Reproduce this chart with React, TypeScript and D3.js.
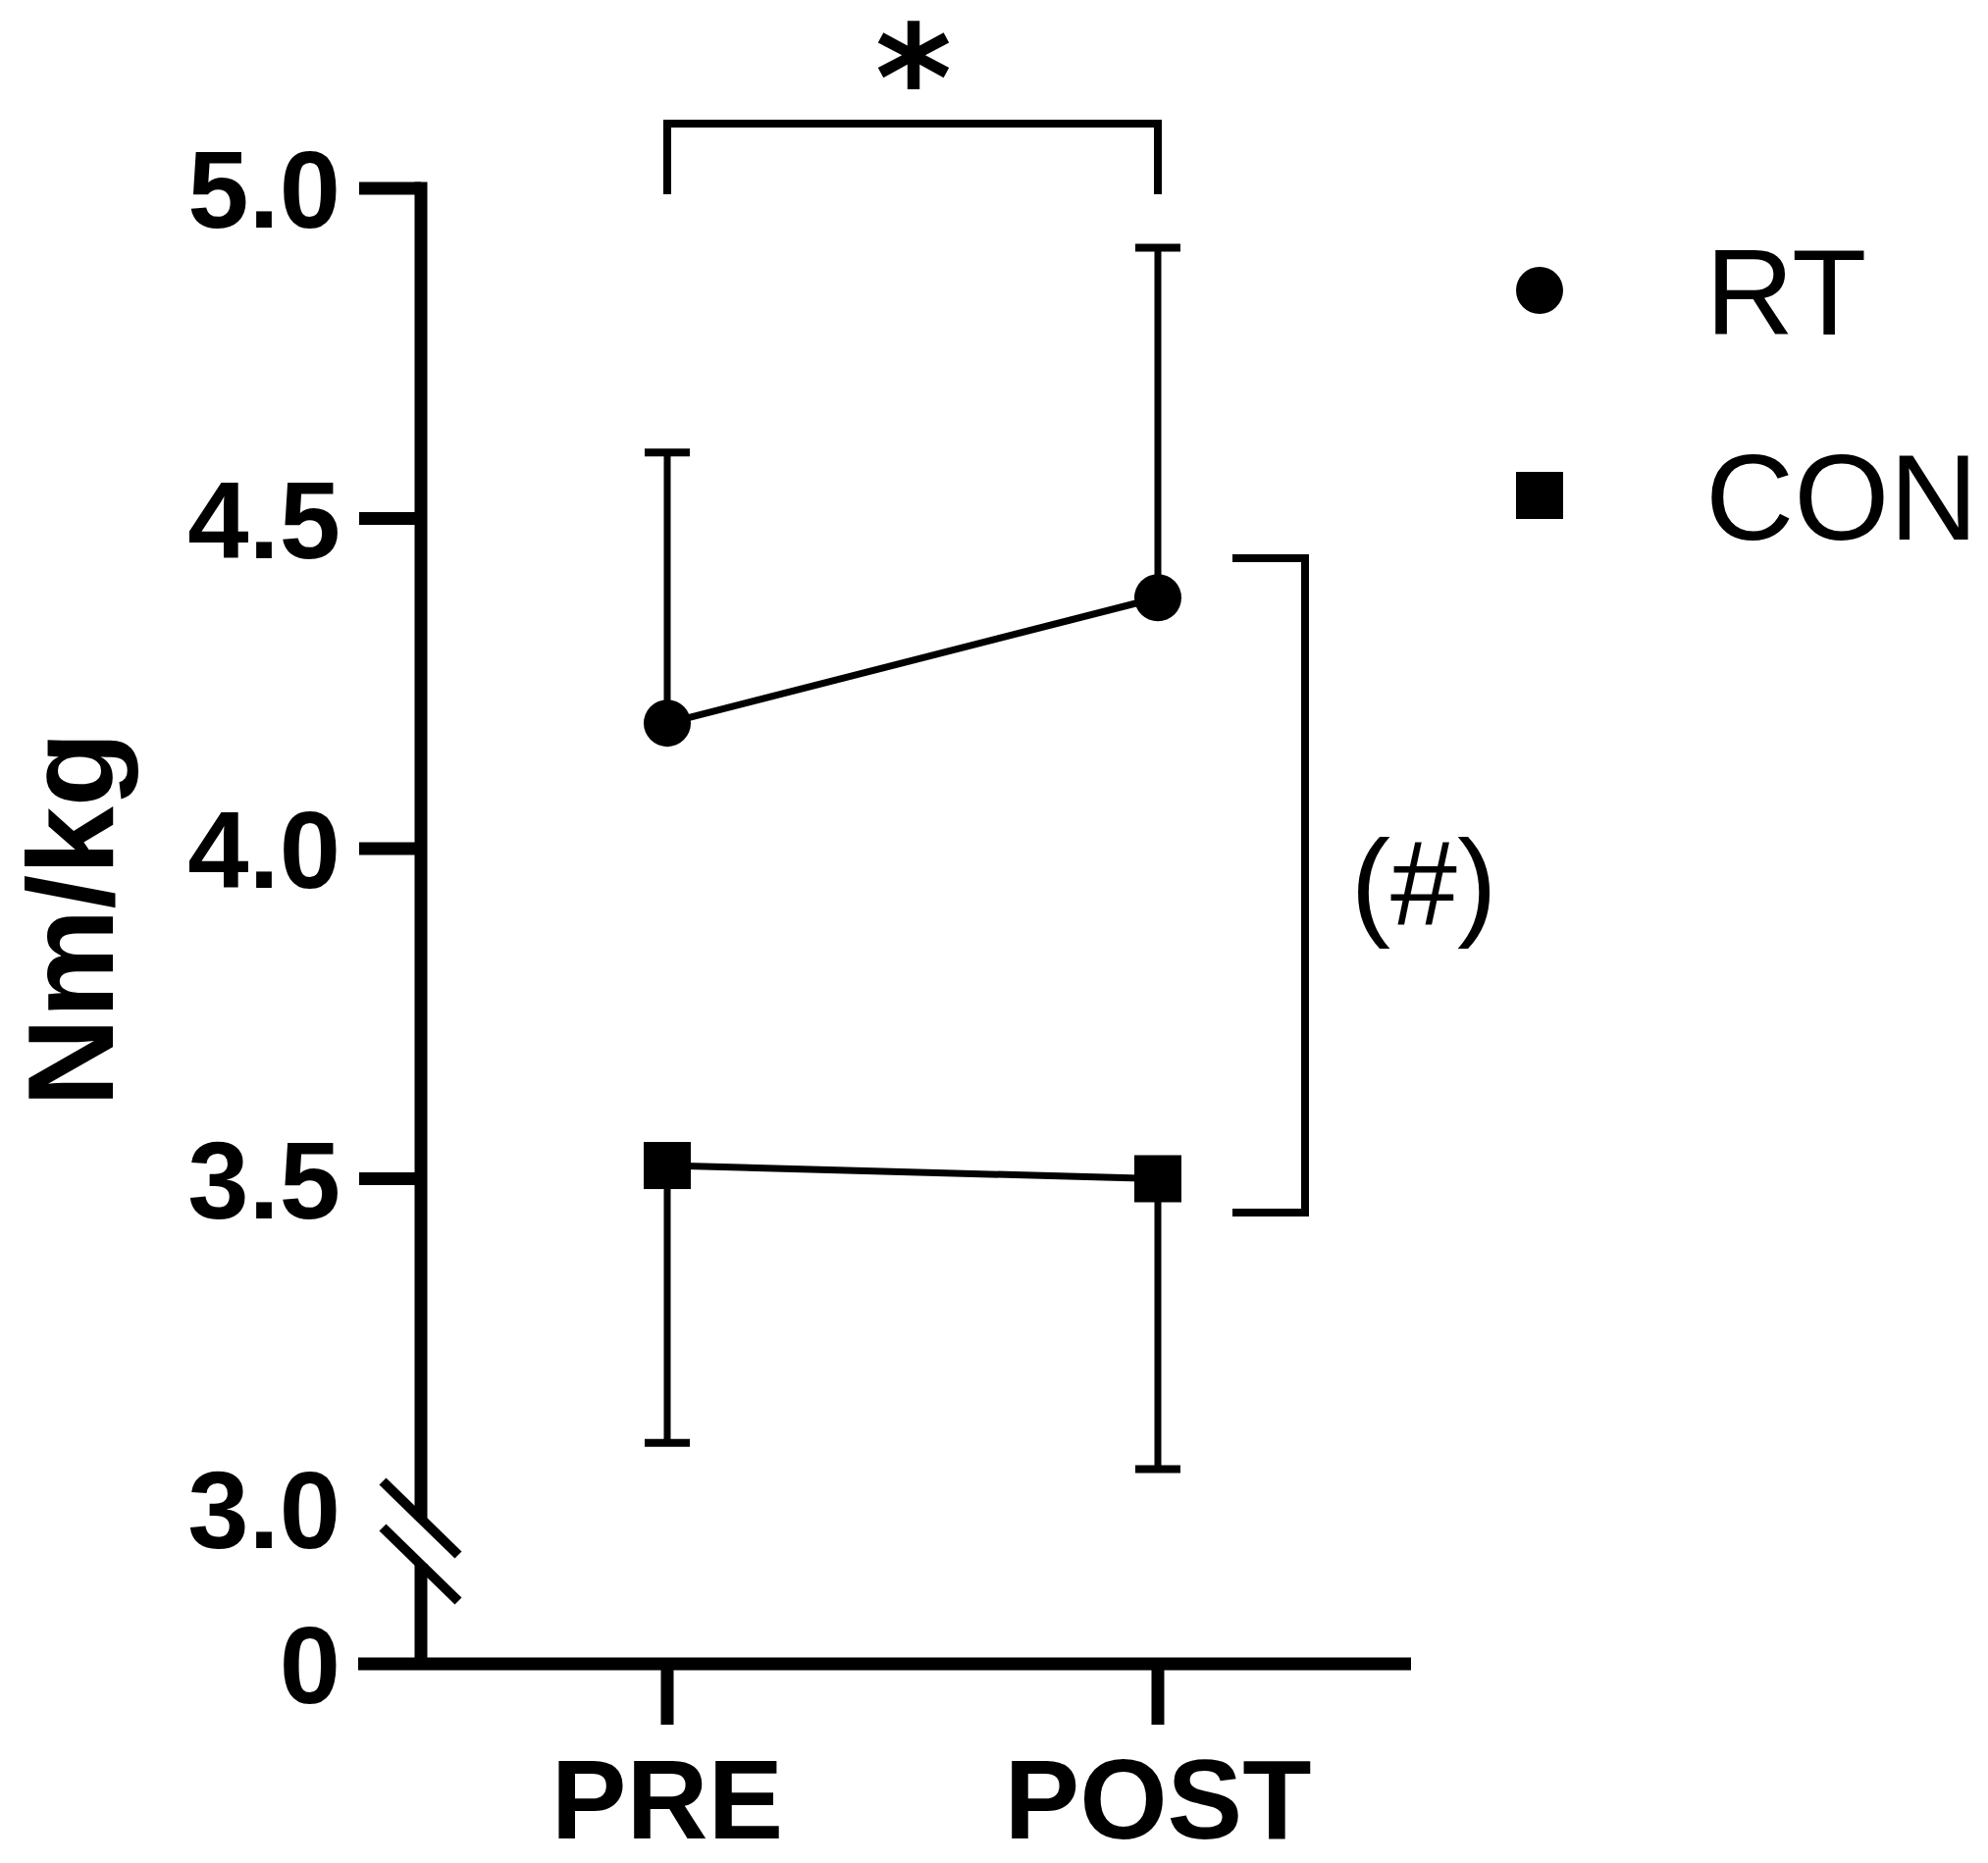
import * as d3 from "d3";

const TIMEPOINTS = ["PRE", "POST"];
const GROUPS = ["RT", "CON"];
const RT_MEAN = [4.19, 4.38];
const RT_ERR = [0.41, 0.53]; // upper bars only
const CON_MEAN = [3.52, 3.5];
const CON_ERR = [0.42, 0.44]; // lower bars only
const Y_TICKS = [3.5, 4.0, 4.5, 5.0];
const Y_LABEL = "Nm/kg";

export const BrokenAxisChart = () => {
    const width = 2026;
    const height = 1899;
    const FONT = "'Liberation Sans', Arial, Helvetica, sans-serif";

    const axisX = 429;
    const baseY = 1696;

    const xScale = d3.scalePoint().domain(TIMEPOINTS).range([680, 1180]);
    const yScale = d3.scaleLinear().domain([3, 5]).range([1538, 192]);

    const breakTop = 1548;
    const breakBottom = 1594;

    const x = (t: string) => xScale(t) as number;

    const series = [
        { name: "RT", mean: RT_MEAN, err: RT_ERR, dir: 1, shape: "circle" },
        { name: "CON", mean: CON_MEAN, err: CON_ERR, dir: -1, shape: "square" },
    ];

    const line = d3
        .line<number>()
        .x((_, i) => x(TIMEPOINTS[i]))
        .y((d) => yScale(d));

    const marker = (shape: string, cx: number, cy: number, key: string) =>
        shape === "circle" ? (
            <circle key={key} cx={cx} cy={cy} r={24} fill="black" />
        ) : (
            <rect key={key} x={cx - 24} y={cy - 24} width={48} height={48} fill="black" />
        );

    const dataMarks = series.map((s) => (
        <g key={s.name}>
            <path d={line(s.mean) ?? ""} stroke="black" strokeWidth={7} fill="none" />
            {s.mean.map((m, i) => {
                const cx = x(TIMEPOINTS[i]);
                const end = yScale(m + s.dir * s.err[i]);
                return (
                    <g key={i}>
                        <line x1={cx} x2={cx} y1={yScale(m)} y2={end} stroke="black" strokeWidth={7} />
                        <line x1={cx - 23} x2={cx + 23} y1={end} y2={end} stroke="black" strokeWidth={8} />
                    </g>
                );
            })}
            {s.mean.map((m, i) => marker(s.shape, x(TIMEPOINTS[i]), yScale(m), `m${i}`))}
        </g>
    ));

    const yTicks = Y_TICKS.map((t) => (
        <g key={t}>
            <line x1={366} x2={axisX} y1={yScale(t)} y2={yScale(t)} stroke="black" strokeWidth={13} />
            <text
                x={347}
                y={yScale(t) + 40}
                textAnchor="end"
                fontSize={112}
                fontWeight="bold"
                fontFamily={FONT}
            >
                {t.toFixed(1)}
            </text>
        </g>
    ));

    const xTicks = TIMEPOINTS.map((t) => (
        <g key={t}>
            <line x1={x(t)} x2={x(t)} y1={baseY} y2={1758} stroke="black" strokeWidth={13} />
            <text x={x(t)} y={1874} textAnchor="middle" fontSize={115} fontWeight="bold" fontFamily={FONT}>
                {t}
            </text>
        </g>
    ));

    const legend = GROUPS.map((g, i) => {
        const cy = 296 + i * 209;
        return (
            <g key={g}>
                {marker(i === 0 ? "circle" : "square", 1569, cy, "lm" + g)}
                <text x={1738} y={cy + 45} fontSize={125} fontFamily={FONT}>
                    {g}
                </text>
            </g>
        );
    });

    return (
        <svg
            width={width}
            height={height}
            style={{ position: "absolute", left: 0, top: 0, background: "white" }}
        >
            {/* y axis, broken between 0 and 3.0 */}
            <line x1={axisX} x2={axisX} y1={yScale(5) - 6.5} y2={breakTop} stroke="black" strokeWidth={13} />
            <line x1={axisX} x2={axisX} y1={breakBottom} y2={baseY} stroke="black" strokeWidth={13} />
            <line x1={390} x2={467} y1={1510} y2={1585} stroke="black" strokeWidth={10} />
            <line x1={390} x2={467} y1={1557} y2={1632} stroke="black" strokeWidth={10} />
            <text x={347} y={yScale(3) + 40} textAnchor="end" fontSize={112} fontWeight="bold" fontFamily={FONT}>
                3.0
            </text>
            {yTicks}

            {/* x axis */}
            <line x1={365} x2={1438} y1={baseY} y2={baseY} stroke="black" strokeWidth={13} />
            <text x={347} y={baseY + 40} textAnchor="end" fontSize={112} fontWeight="bold" fontFamily={FONT}>
                0
            </text>
            {xTicks}

            <text
                transform={`translate(115, 937) rotate(-90)`}
                textAnchor="middle"
                fontSize={125}
                fontWeight="bold"
                fontFamily={FONT}
            >
                {Y_LABEL}
            </text>

            {dataMarks}

            {/* significance brackets */}
            <path
                d={`M${x("PRE")},198 V126 H${x("POST")} V198`}
                stroke="black"
                strokeWidth={8}
                fill="none"
            />
            <text
                x={931}
                y={133}
                textAnchor="middle"
                fontSize={150}
                fontWeight="bold"
                fontFamily="'DejaVu Sans', sans-serif"
            >
                *
            </text>
            <path d="M1256,569 H1330 V1236 H1256" stroke="black" strokeWidth={8} fill="none" />
            <text x={1451} y={942} textAnchor="middle" fontSize={122} fontFamily={FONT}>
                (#)
            </text>

            {legend}
        </svg>
    );
};

export default function App() {
    return <BrokenAxisChart />;
}
